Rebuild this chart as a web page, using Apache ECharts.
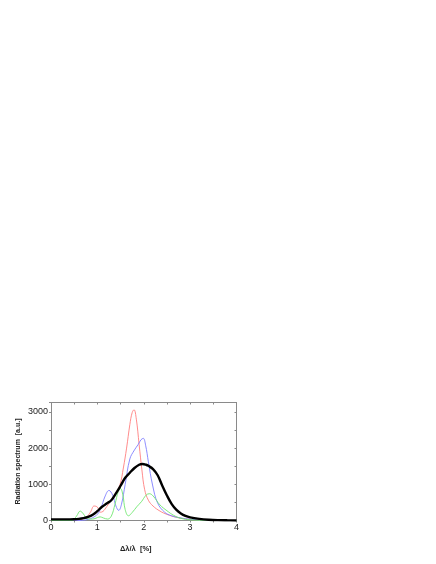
<!DOCTYPE html>
<html>
<head>
<meta charset="utf-8">
<script src="https://cdn.jsdelivr.net/npm/echarts@6/dist/echarts.min.js"></script>
<style>
  html, body { margin: 0; padding: 0; background: #fff; }
  #main { width: 436px; height: 564px; }
</style>
</head>
<body>
<div id="main"></div>
<script>
// DATA -----------------------------------------------------------------
var xTicks = [0, 1, 2, 3, 4];
var yTicks = [0, 1000, 2000, 3000];

var redX = [0, 0.4, 0.6, 0.75, 0.85, 0.93, 1.0, 1.06, 1.12, 1.2, 1.3, 1.4, 1.49, 1.56, 1.63, 1.7, 1.75, 1.79, 1.84, 1.9, 1.96, 2.02, 2.1, 2.2, 2.35, 2.5, 2.7, 2.9, 3.1, 3.4, 4.0];
var redY = [0, 0, 20, 80, 230, 400, 370, 230, 250, 380, 560, 760, 1000, 1450, 2000, 2650, 2980, 3060, 2800, 2100, 1400, 850, 560, 400, 260, 170, 90, 45, 20, 5, 0];

var blueX = [0, 0.6, 0.8, 0.9, 1.0, 1.08, 1.16, 1.25, 1.33, 1.4, 1.46, 1.52, 1.6, 1.7, 1.8, 1.88, 1.94, 1.99, 2.04, 2.1, 2.19, 2.3, 2.45, 2.6, 2.8, 3.0, 3.3, 4.0];
var blueY = [0, 0, 30, 80, 170, 350, 650, 830, 700, 400, 280, 450, 1000, 1700, 1950, 2100, 2230, 2270, 2080, 1620, 980, 480, 230, 130, 70, 35, 10, 0];

var greenX = [0, 0.45, 0.55, 0.63, 0.7, 0.78, 0.9, 1.0, 1.06, 1.13, 1.22, 1.3, 1.38, 1.45, 1.5, 1.55, 1.6, 1.67, 1.75, 1.85, 1.95, 2.05, 2.12, 2.2, 2.35, 2.5, 2.65, 2.8, 3.0, 3.3, 4.0];
var greenY = [0, 0, 120, 260, 180, 50, 40, 80, 100, 70, 40, 120, 450, 800, 880, 700, 300, 130, 220, 380, 520, 700, 740, 680, 430, 270, 140, 60, 20, 5, 0];

var blackX = [0, 0.3, 0.5, 0.6, 0.7, 0.8, 0.9, 1.0, 1.1, 1.2, 1.3, 1.4, 1.5, 1.6, 1.7, 1.8, 1.9, 1.97, 2.05, 2.1, 2.2, 2.3, 2.4, 2.5, 2.6, 2.7, 2.8, 2.9, 3.0, 3.2, 3.4, 3.6, 3.8, 4.0];
var blackY = [30, 30, 35, 45, 65, 100, 160, 260, 380, 470, 560, 750, 960, 1180, 1320, 1450, 1540, 1560, 1540, 1510, 1420, 1250, 960, 690, 460, 300, 195, 125, 85, 45, 22, 10, 5, 2];

function pairs(xs, ys) {
    var out = [];
    for (var i = 0; i < xs.length; i++) out.push([xs[i], ys[i]]);
    return out;
}

// CHART ----------------------------------------------------------------
var chart = echarts.init(document.getElementById('main'));
var axisGray = '#8a8a8a';
var labelFont = { fontFamily: 'Liberation Sans', fontSize: 9, color: '#222', formatter: function (v) { return String(v); } };

function line(xs, ys, color, width) {
    return {
        type: 'line',
        data: pairs(xs, ys),
        smooth: 0.4,
        symbol: 'none',
        lineStyle: { color: color, width: width },
        z: width > 2 ? 5 : 3
    };
}

// mirror axes on top / right, ticks inside, no labels
function mirror(pos, max, interval) {
    return {
        type: 'value',
        position: pos,
        min: 0, max: max, interval: interval,
        axisLine: { show: true, onZero: false, lineStyle: { color: axisGray, width: 1 } },
        axisTick: { show: true, inside: true, length: 2, lineStyle: { color: axisGray } },
        minorTick: { show: true, splitNumber: 2, length: 2, lineStyle: { color: axisGray } },
        axisLabel: { show: false },
        splitLine: { show: false }
    };
}

var option = {
    animation: false,
    backgroundColor: '#fff',
    grid: { left: 51, right: 199.5, top: 402.5, bottom: 43.5 },
    xAxis: [{
        type: 'value',
        min: xTicks[0],
        max: xTicks[xTicks.length - 1],
        interval: 1,
        name: 'Δλ/λ  [%]',
        nameLocation: 'middle',
        nameGap: 24,
        nameTextStyle: { fontFamily: 'Liberation Sans', fontSize: 7.5, fontWeight: 'bold', color: '#222', padding: [0, 16, 0, 0] },
        axisLine: { show: true, onZero: false, lineStyle: { color: axisGray, width: 1 } },
        axisTick: { show: true, inside: false, length: 2, lineStyle: { color: axisGray } },
        minorTick: { show: true, splitNumber: 2, length: 2, lineStyle: { color: axisGray } },
        axisLabel: Object.assign({ margin: 3 }, labelFont),
        splitLine: { show: false }
    }, mirror('top', 4, 1)],
    yAxis: [{
        type: 'value',
        min: yTicks[0],
        max: 3260,
        interval: 1000,
        name: 'Radiation spectrum  [a.u.]',
        nameLocation: 'middle',
        nameRotate: 90,
        nameGap: 29,
        nameTextStyle: { fontFamily: 'Liberation Sans', fontSize: 7, fontWeight: 'bold', color: '#222' },
        axisLine: { show: true, onZero: false, lineStyle: { color: axisGray, width: 1 } },
        axisTick: { show: true, inside: false, length: 2, lineStyle: { color: axisGray } },
        minorTick: { show: true, splitNumber: 2, length: 2, lineStyle: { color: axisGray } },
        axisLabel: Object.assign({ margin: 3, showMaxLabel: false }, labelFont),
        splitLine: { show: false }
    }, mirror('right', 3260, 1000)],
    series: [
        line(redX, redY, '#ff7f7f', 0.9),
        line(blueX, blueY, '#7f7fff', 0.9),
        line(greenX, greenY, '#6ee86e', 0.9),
        line(blackX, blackY, '#000000', 2.4)
    ]
};

chart.setOption(option);
</script>
</body>
</html>
